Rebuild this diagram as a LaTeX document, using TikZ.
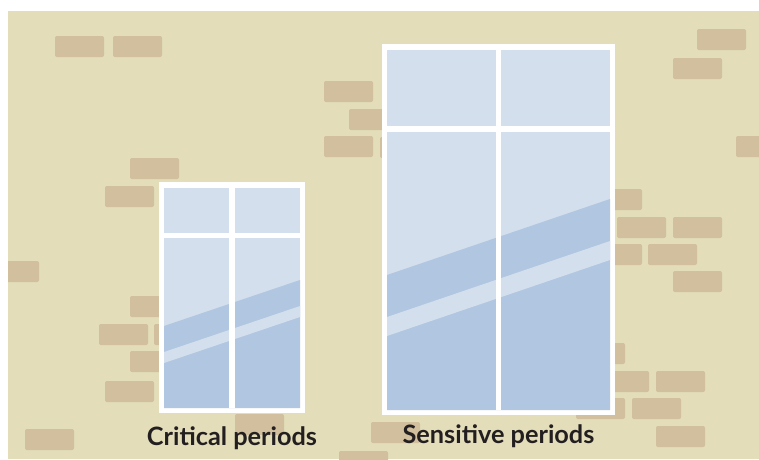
\documentclass[tikz,border=0pt]{standalone}
\usepackage{fontspec}
\setmainfont{Lato}
\usepackage{tikz}

\definecolor{parede}{RGB}{227,221,185}
\definecolor{tijolo}{RGB}{209,191,158}
\definecolor{vidroclaro}{RGB}{211,223,236}
\definecolor{vidroescuro}{RGB}{176,198,225}
\definecolor{texto}{RGB}{35,31,32}

\begin{document}
\begin{tikzpicture}[x=1pt, y=-1pt,
    bloco/.style={fill=tijolo, rounded corners=2pt},
    rotulo/.style={font=\fontsize{25.3}{30}\selectfont\bfseries, text=texto,
      inner sep=0pt, anchor=base}]

  %--------------------------------------------
  % Area total (margem branca no topo e a esquerda)
  %--------------------------------------------
  \useasboundingbox (0,0) rectangle (759,459);
  \fill[white] (0,0) rectangle (759,459);

  %--------------------------------------------
  % Parede
  %--------------------------------------------
  \fill[parede] (8,11) rectangle (759,459);

  %--------------------------------------------
  % Tijolos soltos na parede
  % Cada par (x/y) indica o canto superior esquerdo
  %--------------------------------------------
  \begin{scope}
    \clip (8,11) rectangle (759,459);
    \foreach \x/\y in {55/36, 113/36, 697/29, 673/58, 324/81, 349/109,
      324/136, 380/137, 736/136, 130/158, 105/186, 593/189, 617/217,
      673/217, 593/244, 648/244, 673/271, -10/261, 130/296, 99/324,
      154/324, 130/351, 105/381, 576/343, 600/371, 656/371, 576/398,
      632/398, 656/426, 25/429, 235/414, 371/422, 339/451}
    {
      \fill[bloco] (\x,\y) rectangle ++(49,21);
    }
  \end{scope}

  %--------------------------------------------
  % Janela pequena
  %--------------------------------------------
  \fill[white] (159,182) rectangle (305,413);
  \begin{scope}
    \clip (164,188) rectangle (300,408);
    \fill[vidroclaro] (164,188) rectangle (300,408);
    % reflexo: faixa escura com um risco claro
    \fill[vidroescuro] (164,326) -- (300,280) -- (300,408) -- (164,408) -- cycle;
    \fill[vidroclaro] (164,352) -- (300,306) -- (300,317) -- (164,363) -- cycle;
  \end{scope}
  \fill[white] (229,188) rectangle (235,408); % montante
  \fill[white] (164,233) rectangle (300,238); % travessa

  %--------------------------------------------
  % Janela grande
  %--------------------------------------------
  \fill[white] (382,44) rectangle (615,415);
  \begin{scope}
    \clip (387,50) rectangle (610,410);
    \fill[vidroclaro] (387,50) rectangle (610,410);
    \fill[vidroescuro] (387,275) -- (610,199) -- (610,410) -- (387,410) -- cycle;
    \fill[vidroclaro] (387,317) -- (610,241) -- (610,260) -- (387,336) -- cycle;
  \end{scope}
  \fill[white] (496,50) rectangle (501,410); % montante
  \fill[white] (387,126) rectangle (610,132); % travessa

  %--------------------------------------------
  % Rotulos
  %--------------------------------------------
  \node[rotulo] (critico) at (232,445) {Critical periods};
  \node[rotulo] (sensivel) at (498.5,443) {Sensitive periods};

\end{tikzpicture}
\end{document}
